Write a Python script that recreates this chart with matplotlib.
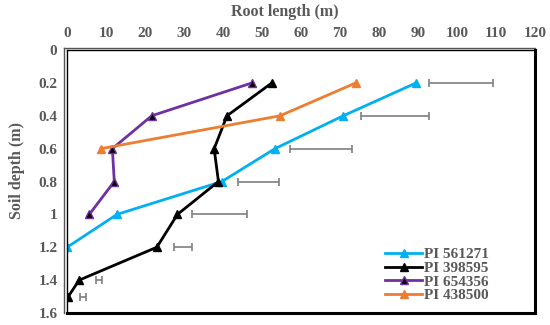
import matplotlib.pyplot as plt

# soil depth (m) and root length (m) per accession
depth_561271 = [0.2, 0.4, 0.6, 0.8, 1.0, 1.2]
root_561271 = [89.5, 70.8, 53.3, 39.7, 12.8, 0.0]

depth_398595 = [0.2, 0.4, 0.6, 0.8, 1.0, 1.2, 1.4, 1.5]
root_398595 = [52.5, 41.0, 37.7, 38.8, 28.3, 23.0, 3.1, 0.3]

depth_654356 = [0.2, 0.4, 0.6, 0.8, 1.0]
root_654356 = [47.4, 21.7, 11.6, 12.1, 5.7]

depth_438500 = [0.2, 0.4, 0.6]
root_438500 = [74.0, 54.6, 8.7]

# floating error bars (left end, right end) at each depth
err_depth = [0.2, 0.4, 0.6, 0.8, 1.0, 1.2, 1.4, 1.5]
err_low = [92.8, 75.4, 57.2, 43.8, 32.1, 27.3, 7.4, 3.3]
err_high = [109.3, 92.8, 73.1, 54.4, 46.1, 32.0, 8.9, 4.8]

xticks = [0, 10, 20, 30, 40, 50, 60, 70, 80, 90, 100, 110, 120]
yticks = [0, 0.2, 0.4, 0.6, 0.8, 1.0, 1.2, 1.4, 1.6]
ytick_labels = ['0', '0.2', '0.4', '0.6', '0.8', '1', '1.2', '1.4', '1.6']

grey = '#595959'
plt.rcParams['font.family'] = 'Liberation Serif'
plt.rcParams['font.weight'] = 'bold'

fig = plt.figure(figsize=(5.5, 3.25), dpi=100)
ax = fig.add_axes([0.122, 0.037, 0.851, 0.809])

# error bars
centers = [(lo + hi) / 2 for lo, hi in zip(err_low, err_high)]
half = [(hi - lo) / 2 for lo, hi in zip(err_low, err_high)]
ax.errorbar(centers, err_depth, xerr=half, fmt='none', ecolor='#7f7f7f',
            elinewidth=1.2, capsize=3, capthick=1.2)

ax.plot(root_561271, depth_561271, color='#00b0f0', lw=2, marker='^', ms=6,
        label='PI 561271')
ax.plot(root_398595, depth_398595, color='black', lw=2, marker='^', ms=6,
        label='PI 398595')
ax.plot(root_654356, depth_654356, color='#7030a0', lw=2, marker='^', ms=6,
        mfc='black', mec='#7030a0', label='PI 654356')
ax.plot(root_438500, depth_438500, color='#ed7d31', lw=2, marker='^', ms=6,
        label='PI 438500')

ax.set_xlim(0, 120)
ax.set_ylim(1.6, 0)
ax.xaxis.tick_top()
ax.xaxis.set_label_position('top')
ax.set_xticks(xticks)
ax.set_yticks(yticks)
ax.set_yticklabels(ytick_labels)
ax.tick_params(length=0, labelsize=11, labelcolor=grey, pad=7)
for lbl in ax.get_xticklabels() + ax.get_yticklabels():
    lbl.set_fontweight('bold')
ax.set_xlabel('Root length (m)', fontsize=11.5, color=grey, fontweight='bold')
ax.set_ylabel('Soil depth (m)', fontsize=11.5, color=grey, fontweight='bold')
ax.xaxis.set_label_coords(0.466, 1.13)
ax.yaxis.set_label_coords(-0.09, 0.54)

# frame: double line top/left, heavy line bottom/right
for side in ['top', 'left']:
    ax.spines[side].set_linewidth(1.0)
for side in ['bottom', 'right']:
    ax.spines[side].set_linewidth(2.2)
ax.plot([-0.006, 1.0], [1.008, 1.008], transform=ax.transAxes, color='#555555',
        lw=1.0, clip_on=False)
ax.plot([-0.006, -0.006], [0.0, 1.008], transform=ax.transAxes, color='#555555',
        lw=1.0, clip_on=False)

leg = ax.legend(loc='lower right', bbox_to_anchor=(0.925, 0.0), frameon=False,
                prop={'size': 11, 'weight': 'bold'}, handlelength=2.4,
                handletextpad=0.15, labelspacing=0.0, borderaxespad=0.3)
for t in leg.get_texts():
    t.set_color(grey)

fig.savefig('out.png', dpi=100)
